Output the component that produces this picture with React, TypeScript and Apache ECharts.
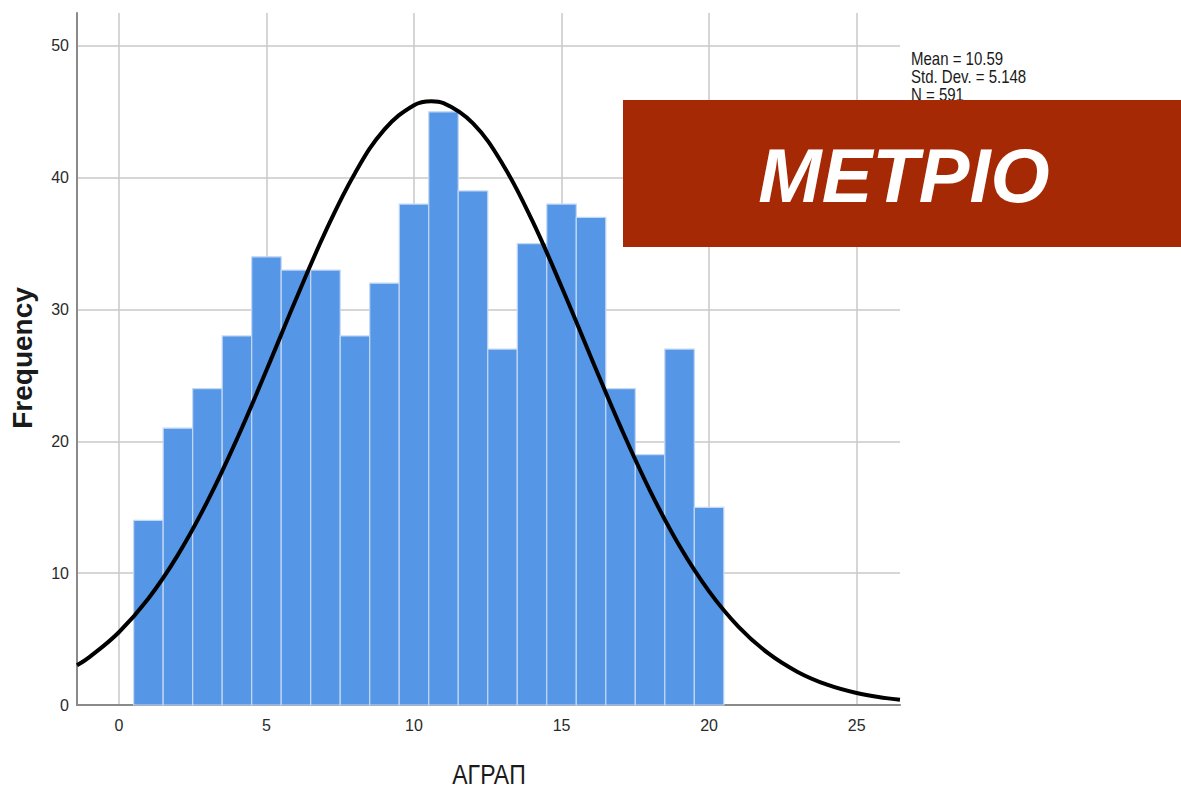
import React, { useEffect, useRef } from "react";
import * as echarts from "echarts";

// Histogram bins (bin centres, width 1) and frequencies
const binCenters = [1, 2, 3, 4, 5, 6, 7, 8, 9, 10, 11, 12, 13, 14, 15, 16, 17, 18, 19, 20];
const frequencies = [14, 21, 24, 28, 34, 33, 33, 28, 32, 38, 45, 39, 27, 35, 38, 37, 24, 19, 27, 15];

// Normal curve points
const curveX = [-1.42, -1, 0, 1, 2, 3, 4, 5, 6, 7, 8, 9, 10, 10.59, 11, 12, 13, 14, 15, 16, 17, 18, 19, 20, 21, 22, 23, 24, 25, 26, 26.47];
const curveY = [3.01, 3.63, 5.52, 8.08, 11.39, 15.45, 20.18, 25.4, 30.78, 35.91, 40.35, 43.67, 45.5, 45.8, 45.66, 44.12, 41.05, 36.78, 31.73, 26.37, 21.1, 16.25, 12.06, 8.62, 5.93, 3.93, 2.51, 1.54, 0.91, 0.52, 0.39];

const statsLines = ["Mean = 10.59", "Std. Dev. = 5.148", "N = 591"];
const xAxisTitle = "ΑΓΡΑΠ";
const yAxisTitle = "Frequency";
const stampText = "METPIO";

export default function App() {
  const ref = useRef<HTMLDivElement>(null);
  useEffect(() => {
    if (!ref.current) return;
    const chart = echarts.init(ref.current, null, { renderer: "svg" });
    const font = "'Liberation Sans', Arial, sans-serif";
    chart.setOption({
      animation: false,
      backgroundColor: "#ffffff",
      grid: { left: 77, top: 13, right: 281, bottom: 83, containLabel: false },
      xAxis: {
        type: "value",
        min: -1.42,
        max: 26.47,
        minInterval: 5,
        maxInterval: 5,
        axisLine: { show: true, onZero: false, lineStyle: { color: "#8a8a8a", width: 2 } },
        axisTick: { show: false },
        axisLabel: {
          showMinLabel: false,
          showMaxLabel: false,
          margin: 12,
          color: "#2a2a2a",
          fontSize: 16,
          fontFamily: font,
        },
        splitLine: { show: true, showMinLine: false, showMaxLine: false, lineStyle: { color: "#c8c8c8", width: 1.5 } },
      },
      yAxis: {
        type: "value",
        min: 0,
        max: 52.5,
        interval: 10,
        axisLine: { show: true, onZero: false, lineStyle: { color: "#8a8a8a", width: 2 } },
        axisTick: { show: false },
        axisLabel: {
          showMaxLabel: false,
          margin: 8,
          color: "#2a2a2a",
          fontSize: 16,
          fontFamily: font,
        },
        splitLine: { show: true, showMinLine: false, showMaxLine: false, lineStyle: { color: "#c8c8c8", width: 1.5 } },
      },
      series: [
        {
          type: "custom",
          data: binCenters.map((c, i) => [c, frequencies[i]]),
          z: 2,
          renderItem: (params: any, api: any) => {
            const c = api.value(0);
            const v = api.value(1);
            const p0 = api.coord([c - 0.5, 0]);
            const p1 = api.coord([c + 0.5, v]);
            return {
              type: "rect",
              shape: { x: p0[0], y: p1[1], width: p1[0] - p0[0], height: p0[1] - p1[1] },
              style: { fill: "#5596e6", stroke: "#c3d8f3", lineWidth: 1.2 },
            };
          },
        },
        {
          type: "line",
          data: curveX.map((x, i) => [x, curveY[i]]),
          smooth: 0.4,
          symbol: "none",
          z: 3,
          lineStyle: { color: "#000000", width: 4 },
        },
      ],
      graphic: [
        {
          type: "text",
          x: 911,
          y: 50,
          scaleY: 1.25,
          z: 5,
          style: {
            text: statsLines.join("\n"),
            font: `15px ${font}`,
            lineHeight: 14.4,
            fill: "#1a1a1a",
            verticalAlign: "top",
          },
        },
        {
          type: "rect",
          z: 10,
          shape: { x: 623, y: 100, width: 558, height: 147 },
          style: { fill: "#a62905" },
        },
        {
          type: "text",
          z: 11,
          x: 904,
          y: 175,
          style: {
            text: stampText,
            font: `italic bold 76px ${font}`,
            fill: "#ffffff",
            align: "center",
            verticalAlign: "middle",
          },
        },
        {
          type: "text",
          z: 5,
          x: 22,
          y: 358,
          rotation: Math.PI / 2,
          style: {
            text: yAxisTitle,
            font: `bold 28px ${font}`,
            fill: "#1a1a1a",
            align: "center",
            verticalAlign: "middle",
          },
        },
        {
          type: "text",
          z: 5,
          x: 489,
          y: 774,
          scaleY: 1.2,
          style: {
            text: xAxisTitle,
            font: `23px ${font}`,
            fill: "#1a1a1a",
            align: "center",
            verticalAlign: "middle",
          },
        },
      ],
    });
    return () => chart.dispose();
  }, []);
  return (
    <div
      ref={ref}
      style={{ position: "fixed", left: 0, top: 0, width: 1181, height: 788, background: "#fff" }}
    />
  );
}
